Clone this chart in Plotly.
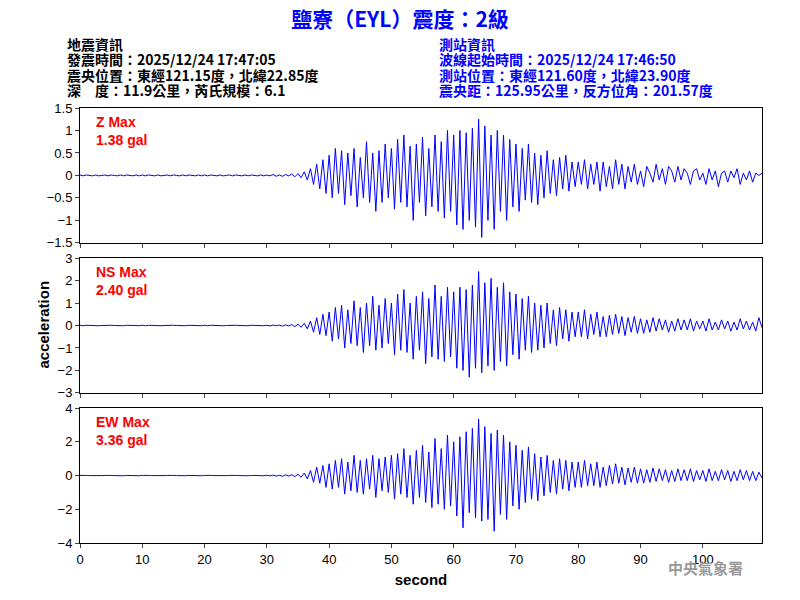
import numpy as np
import plotly.graph_objects as go
from plotly.subplots import make_subplots

quiet = [0.01,-0.01,0.01,0,-0.01,0.01,-0.01,0,0.01,-0.01,0.01,0,-0.01,0.01,-0.01,0.01,0,-0.01,0.01,-0.01]
z_vals = quiet*3 + [0.01,-0.01,0.02,-0.02,0.01,-0.02,0.02,-0.01,0.03,-0.03,0.04,-0.05,
 0.08,-0.1,0.15,-0.2,0.25,-0.3,0.35,-0.4,
 0.45,-0.5,0.6,-0.4,0.55,-0.65,0.5,-0.45,0.6,-0.7,0.4,-0.5,0.75,-0.6,0.5,-0.8,0.55,-0.6,0.7,-0.5,
 0.6,-0.75,0.8,-0.6,0.9,-0.7,0.65,-1.0,0.7,-0.6,0.85,-0.9,0.6,-0.7,0.9,-0.8,0.75,-0.95,1.0,-0.8,
 0.9,-1.1,1.0,-1.2,0.95,-1.0,1.05,-1.15,1.25,-1.38,1.1,-1.0,0.9,-1.2,1.0,-0.8,0.9,-1.0,0.8,-0.7,
 0.7,-0.8,0.6,-0.55,0.7,-0.6,0.5,-0.65,0.45,-0.5,0.55,-0.4,0.35,-0.45,0.4,-0.3,0.45,-0.35,0.3,-0.25,
 0.3,-0.2,0.35,-0.3,0.25,-0.2,0.3,-0.35,0.3,-0.25,0.2,-0.3,0.35,-0.2,0.25,-0.3,0.2,-0.15,0.25,-0.2,
 0.1,-0.25,0.2,0.05,-0.15,0.25,-0.1,0.15,-0.2,0.2,0.1,-0.15,0.2,-0.1,0.15,0.05,-0.2,0.1,0.15,-0.1,
 0.05,-0.2,0.15,-0.1,0.1,-0.25,0.05,0.1,-0.15,0.1,-0.05,0.15,-0.2,0.05,-0.1,0.1,-0.15,0.05,0,0.05]
ns_vals = quiet*3 + [0.01,-0.02,0.02,-0.01,0.02,-0.03,0.03,-0.02,0.04,-0.05,0.06,-0.08,
 0.1,-0.15,0.2,-0.3,0.35,-0.4,0.5,-0.45,
 0.6,-0.7,0.8,-0.6,0.9,-1.0,0.7,-0.8,1.1,-0.9,0.8,-1.2,1.0,-0.9,1.3,-1.1,0.9,-1.0,1.2,-0.8,
 1.0,-1.3,1.4,-1.1,1.6,-1.2,1.0,-1.5,1.3,-1.1,1.5,-1.7,1.2,-1.4,1.8,-1.5,1.3,-1.6,1.7,-1.4,
 1.5,-1.9,1.7,-2.0,1.6,-2.3,1.8,-1.9,2.4,-2.1,1.9,-1.8,2.1,-2.0,1.7,-1.6,1.9,-1.8,1.5,-1.3,
 1.4,-1.5,1.2,-1.1,1.3,-1.2,1.0,-1.1,0.9,-1.0,1.0,-0.8,0.7,-0.9,0.8,-0.6,0.7,-0.7,0.6,-0.5,
 0.6,-0.5,0.7,-0.6,0.5,-0.4,0.6,-0.5,0.4,-0.5,0.45,-0.4,0.5,-0.35,0.4,-0.45,0.35,-0.3,0.4,-0.35,
 0.3,-0.35,0.25,-0.3,0.35,-0.25,0.3,-0.2,0.25,-0.3,0.2,-0.25,0.3,-0.2,0.25,-0.2,0.3,-0.25,0.2,-0.15,
 0.2,-0.25,0.3,-0.2,0.15,-0.2,0.25,-0.15,0.2,-0.25,0.15,-0.2,0.3,-0.15,0.2,-0.2,0.15,-0.25,0.35,-0.1]
ew_vals = quiet*3 + [0.02,-0.02,0.03,-0.03,0.02,-0.04,0.04,-0.03,0.05,-0.06,0.08,-0.1,
 0.15,-0.2,0.3,-0.4,0.5,-0.45,0.6,-0.7,
 0.7,-0.8,0.9,-0.7,1.0,-1.1,0.8,-0.9,1.2,-1.0,0.9,-1.1,1.0,-0.8,1.2,-1.3,1.0,-0.9,1.1,-1.0,
 1.2,-1.4,1.3,-1.1,1.6,-1.3,1.2,-1.7,1.5,-1.3,1.8,-1.6,1.4,-1.9,2.2,-1.7,1.6,-2.0,2.4,-1.8,
 2.0,-2.4,2.3,-3.1,2.6,-2.2,2.8,-2.5,3.36,-2.7,2.9,-2.6,2.5,-3.3,2.7,-2.3,2.4,-2.6,2.0,-1.8,
 1.8,-2.0,1.5,-1.6,1.7,-1.4,1.3,-1.5,1.1,-1.2,1.2,-1.0,0.9,-1.1,1.0,-0.8,0.9,-0.9,0.8,-0.7,
 0.8,-0.7,0.9,-0.6,0.7,-0.6,0.8,-0.7,0.5,-0.6,0.6,-0.5,0.7,-0.45,0.5,-0.55,0.45,-0.4,0.5,-0.45,
 0.4,-0.45,0.35,-0.4,0.45,-0.35,0.4,-0.3,0.35,-0.4,0.3,-0.35,0.4,-0.3,0.35,-0.3,0.4,-0.35,0.3,-0.25,
 0.3,-0.35,0.4,-0.3,0.25,-0.3,0.35,-0.25,0.3,-0.35,0.25,-0.3,0.35,-0.25,0.3,-0.3,0.25,-0.3,0.2,-0.15]
t = np.arange(len(z_vals)) * 0.5

labels = [("Z Max", "1.38 gal"), ("NS Max", "2.40 gal"), ("EW Max", "3.36 gal")]
ranges = [[-1.5, 1.5], [-3, 3], [-4, 4]]
dticks = [0.5, 1, 2]
series = [z_vals, ns_vals, ew_vals]

fig = make_subplots(rows=3, cols=1, shared_xaxes=True, vertical_spacing=0.035)
for i, (v, r, d) in enumerate(zip(series, ranges, dticks)):
    fig.add_trace(go.Scatter(x=t, y=v, mode="lines", line=dict(color="blue", width=1), showlegend=False), row=i+1, col=1)
    fig.update_yaxes(range=r, dtick=d, ticks="outside", ticklen=4, showgrid=False, zeroline=False, automargin=False,
                     showline=True, linecolor="black", mirror=True, row=i+1, col=1)
    fig.update_xaxes(range=[0, 109.5], ticks="outside", ticklen=4, showgrid=False, automargin=False,
                     showline=True, linecolor="black", mirror=True, row=i+1, col=1,
                     tickvals=list(range(0, 101, 10)))
doms = [[0.690, 1.0], [0.345, 0.655], [0.0, 0.310]]
for i, dm in enumerate(doms):
    fig.layout["yaxis" + ("" if i == 0 else str(i+1))].domain = dm
    yr = "y" + ("" if i == 0 else str(i+1)) + " domain"
    fig.add_annotation(x=0.02, y=0.97, xref="paper", yref=yr, text="<b>" + labels[i][0] + "<br>" + labels[i][1] + "</b>",
                       showarrow=False, xanchor="left", yanchor="top", align="left",
                       font=dict(color="red", size=14, family="Arial"))
fig.update_xaxes(title_text="<b>second</b>", title_font=dict(size=15), title_standoff=8, row=3, col=1)

def py(p):
    return (543 - p) / 435
left = ["地震資訊", "發震時間：2025/12/24 17:47:05", "震央位置：東經121.15度，北緯22.85度", "深　度：11.9公里，芮氏規模：6.1"]
right = ["測站資訊", "波線起始時間：2025/12/24 17:46:50", "測站位置：東經121.60度，北緯23.90度", "震央距：125.95公里，反方位角：201.57度"]
for k, (a, b) in enumerate(zip(left, right)):
    yy = py(44 + k * 15.3)
    fig.add_annotation(x=(65-80)/682, y=yy, xref="paper", yref="paper", text="<b>" + a + "</b>", showarrow=False,
                       xanchor="left", yanchor="middle", font=dict(color="black", size=14, family="Noto Sans CJK TC"))
    fig.add_annotation(x=(437-80)/682, y=yy, xref="paper", yref="paper", text="<b>" + b + "</b>", showarrow=False,
                       xanchor="left", yanchor="middle", font=dict(color="blue", size=14, family="Noto Sans CJK TC"))
fig.add_annotation(x=(32-80)/682, y=py(325), xref="paper", yref="paper", text="<b>acceleration</b>", textangle=-90,
                   showarrow=False, font=dict(color="black", size=15))
fig.add_annotation(x=(745-80)/682, y=py(580), xref="paper", yref="paper", text="<b>中央氣象署</b>", xanchor="right",
                   showarrow=False, font=dict(color="#999999", size=15, family="Noto Sans CJK TC"))
fig.update_layout(width=792, height=592, margin=dict(l=72, r=38, t=100, b=57, autoexpand=False),
                  title=dict(text="<b>鹽寮（EYL）震度：2級</b>", x=(400-8)/792, xanchor="center",
                             yref="container", y=1 - 4/592, yanchor="top",
                             font=dict(color="blue", size=21, family="Noto Sans CJK TC")),
                  plot_bgcolor="white", paper_bgcolor="white",
                  font=dict(family="Arial", size=13, color="black"))
fig.write_html("out.html")
